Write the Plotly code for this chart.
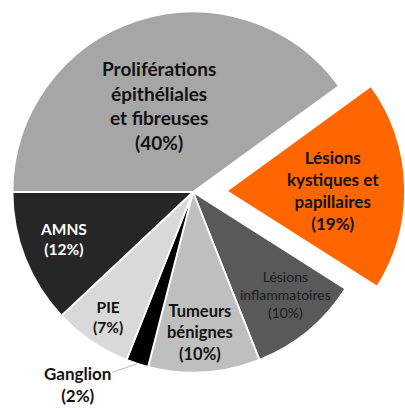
import math
import plotly.graph_objects as go

# Répartition des lésions (%)
labels = [
    "Proliférations<br>épithéliales<br>et fibreuses",
    "Lésions<br>kystiques et<br>papillaires",
    "Lésions<br>inflammatoires",
    "Tumeurs<br>bénignes",
    "Ganglion",
    "PIE",
    "AMNS",
]
values = [40, 19, 10, 10, 2, 7, 12]

# Styles per slice
colors = ["#a6a6a6", "#ff6600", "#595959", "#bfbfbf", "#000000", "#d9d9d9", "#262626"]
text_colors = ["#111111", "#111111", "#1a1a1a", "#111111", "#111111", "#111111", "#ffffff"]
text_sizes = [19, 17, 14, 16.5, 17, 15.5, 15.5]
bold = [True, True, False, True, True, True, True]
# Label placement: fraction of the radius and small angular nudge (deg)
label_frac = [0.517, 0.597, 0.765, 0.782, None, 0.835, 0.762]
label_nudge = [-3.3, 1.3, -2.2, 0.8, 0.0, 0.1, 1.4]

DETACHED = 1   # slice drawn apart from the pie
OUTSIDE = 4    # slice labelled outside with a leader line

W, H = 405, 408
FONT = "Lato, 'Open Sans', sans-serif"
START = 270    # first slice starts at 9 o'clock, going clockwise

def slice_text(i):
    t = f"{labels[i]}<br>({values[i]}%)"
    return f"<b>{t}</b>" if bold[i] else t

texts = [slice_text(i) for i in range(len(values))]
transparent = "rgba(0,0,0,0)"

# Pie geometry (pixels)
cx, cy, r = 193.0, 192.0, 180.5        # main pie
dcx, dcy, dr = 226.5, 191.0, 178.5     # detached slice

def dom(cxp, cyp, rp):
    return dict(x=[(cxp - rp) / W, (cxp + rp) / W],
                y=[1 - (cyp + rp) / H, 1 - (cyp - rp) / H])

n = len(values)
main_colors = [transparent if i == DETACHED else c for i, c in enumerate(colors)]
main_line_w = [0 if i == DETACHED else 1.8 for i in range(n)]
det_colors = [c if i == DETACHED else transparent for i, c in enumerate(colors)]
det_line_w = [1.8 if i == DETACHED else 0 for i in range(n)]

fig = go.Figure()
fig.add_trace(go.Pie(
    labels=labels, values=values, textinfo="none",
    sort=False, direction="clockwise", rotation=START,
    marker=dict(colors=main_colors, line=dict(color="#ffffff", width=main_line_w)),
    domain=dom(cx, cy, r), hoverinfo="skip", showlegend=False,
))
fig.add_trace(go.Pie(
    labels=labels, values=values, textinfo="none",
    sort=False, direction="clockwise", rotation=START,
    marker=dict(colors=det_colors, line=dict(color="#ffffff", width=det_line_w)),
    domain=dom(dcx, dcy, dr), hoverinfo="skip", showlegend=False,
))

# Mid-angle of each slice (deg, clockwise from 12 o'clock)
total = sum(values)
mids = [START + 360 * (sum(values[:i]) + values[i] / 2) / total for i in range(n)]

def to_paper(px, py):
    return px / W, 1 - py / H

for i in range(n):
    if i == OUTSIDE:
        continue
    ccx, ccy, rr = (dcx, dcy, dr) if i == DETACHED else (cx, cy, r)
    th = math.radians(mids[i] + label_nudge[i])
    px = ccx + label_frac[i] * rr * math.sin(th)
    py = ccy - label_frac[i] * rr * math.cos(th)
    x, y = to_paper(px, py)
    fig.add_annotation(
        x=x, y=y, xref="paper", yref="paper", text=texts[i], showarrow=False,
        xanchor="center", yanchor="middle",
        font=dict(family=FONT, size=text_sizes[i], color=text_colors[i]),
    )

# Leader line for the small slice: tip on the outer edge at its mid-angle
th = math.radians(mids[OUTSIDE])
tip_x, tip_y = to_paper(cx + r * math.sin(th), cy - r * math.cos(th))
fig.add_annotation(
    x=tip_x, y=tip_y, xref="paper", yref="paper",
    text=texts[OUTSIDE], showarrow=True, arrowhead=0, arrowwidth=0.8,
    arrowcolor="#a6a6a6", ax=-60, ay=21, standoff=0,
    font=dict(family=FONT, size=text_sizes[OUTSIDE], color=text_colors[OUTSIDE]),
)

fig.update_layout(
    width=W, height=H, margin=dict(l=0, r=0, t=0, b=0),
    paper_bgcolor="#ffffff", plot_bgcolor="#ffffff", showlegend=False,
)
fig.write_html("out.html")
